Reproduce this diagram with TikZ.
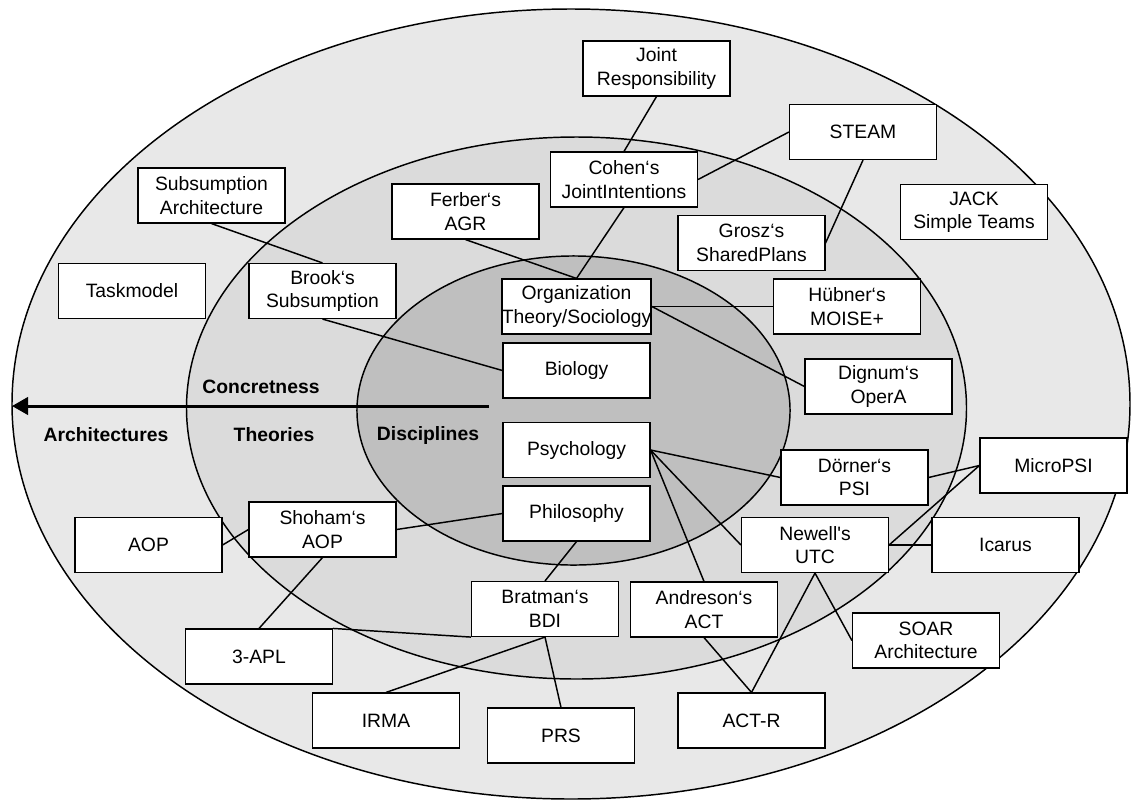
\documentclass[tikz,border=0pt]{standalone}
\usepackage{fontspec}
\setmainfont{Liberation Sans}
\usetikzlibrary{positioning,arrows.meta}

\begin{document}
\begin{tikzpicture}[x=0.75pt,y=-0.75pt,>=Triangle,font=\fontsize{14.5}{17.5}\selectfont]
\tikzstyle{box}=[draw,fill=white,line width=1.1pt,align=center,minimum width=110pt,minimum height=41pt,inner sep=0pt]
\tikzstyle{link}=[line width=1.1pt]
\tikzstyle{ring}=[draw,line width=1.1pt]
\tikzstyle{lbl}=[font=\fontsize{14.5}{17.5}\selectfont\bfseries]

\useasboundingbox (0,0) rectangle (1132,801);

% the three rings
\draw[ring,fill=black!9] (571,404) ellipse [x radius=419.25pt,y radius=296.25pt];
\draw[ring,fill=black!14] (576.5,408) ellipse [x radius=292.5pt,y radius=203.25pt];
\draw[ring,fill=black!25] (573.5,410.5) ellipse [x radius=162.4pt,y radius=115.9pt];

% disciplines
\node[box] (orga) at (576.5,306.5) {Organization\\Theory/Sociology};
\node[box] (bio) at (576.5,370.5) {Biology};
\node[box] (psych) at (576.5,450) {Psychology};
\node[box] (philo) at (576.5,513.5) {Philosophy};

% theories
\node[box] (cohen) at (624,179.5) {Cohen‘s\\JointIntentions};
\node[box] (ferber) at (465.5,211.5) {Ferber‘s\\AGR};
\node[box] (grosz) at (751.5,243) {Grosz‘s\\SharedPlans};
\node[box] (brook) at (322.5,291) {Brook‘s\\Subsumption};
\node[box] (huebner) at (847,306.5) {Hübner‘s\\MOISE+};
\node[box] (dignum) at (878.5,386.5) {Dignum‘s\\OperA};
\node[box] (doerner) at (854.5,477.5) {Dörner‘s\\PSI};
\node[box] (shoham) at (322.5,529.5) {Shoham‘s\\AOP};
\node[box] (newell) at (815,545) {Newell\textquotesingle s\\UTC};
\node[box] (bratman) at (545,609) {Bratman‘s\\BDI};
\node[box] (andreson) at (704,609.5) {Andreson‘s\\ACT};

% architectures
\node[box] (joint) at (656.5,68.5) {Joint\\Responsibility};
\node[box] (steam) at (863,132) {STEAM};
\node[box] (subarch) at (211.5,195.5) {Subsumption\\Architecture};
\node[box] (jack) at (974,212) {JACK\\Simple Teams};
\node[box] (taskmodel) at (132,291) {Taskmodel};
\node[box] (micropsi) at (1053.5,465.5) {MicroPSI};
\node[box] (aop) at (148.5,545) {AOP};
\node[box] (icarus) at (1005.5,545) {Icarus};
\node[box] (soar) at (926,640.5) {SOAR\\Architecture};
\node[box] (apl) at (259,656.5) {3-APL};
\node[box] (irma) at (386,720.5) {IRMA};
\node[box] (actr) at (751.5,720.5) {ACT-R};
\node[box] (prs) at (561,735.5) {PRS};

% ring labels
\node[lbl] (concret) at (261,387) {Concretness};
\node[lbl] (archlbl) at (106,435) {Architectures};
\node[lbl] (theolbl) at (274,435) {Theories};
\node[lbl] (disclbl) at (428,435) {Disciplines};

\coordinate (arrstart) at (489,406);
\coordinate (arrend) at (12,406);
\draw[->,line width=2.25pt,arrows={->[length=12pt,width=13pt]}] (arrstart) -- (arrend);

% links
\draw[link] (subarch.south) -- (brook.north);
\draw[link] (brook.south) -- (bio.west);
\draw[link] (ferber.south) -- (orga.north);
\draw[link] (cohen.south) -- (orga.north);
\draw[link] (joint.south) -- (cohen.north);
\draw[link] (cohen.east) -- (steam.west);
\draw[link] (steam.south) -- (grosz.east);
\draw[link] (orga.east) -- (huebner.west);
\draw[link] (orga.east) -- (dignum.west);
\draw[link] (psych.east) -- (doerner.west);
\draw[link] (psych.east) -- (newell.west);
\draw[link] (psych.east) -- (andreson.north);
\draw[link] (andreson.south) -- (actr.north);
\draw[link] (newell.south) -- (actr.north);
\draw[link] (newell.south) -- (soar.west);
\draw[link] (newell.east) -- (icarus.west);
\draw[link] (newell.east) -- (micropsi.west);
\draw[link] (doerner.east) -- (micropsi.west);
\draw[link] (philo.south) -- (bratman.north);
\draw[link] (philo.west) -- (shoham.east);
\draw[link] (shoham.west) -- (aop.east);
\draw[link] (shoham.south) -- (apl.north);
\draw[link] (bratman.south west) -- (apl.north east);
\draw[link] (bratman.south) -- (irma.north);
\draw[link] (bratman.south) -- (prs.north);
\end{tikzpicture}
\end{document}
